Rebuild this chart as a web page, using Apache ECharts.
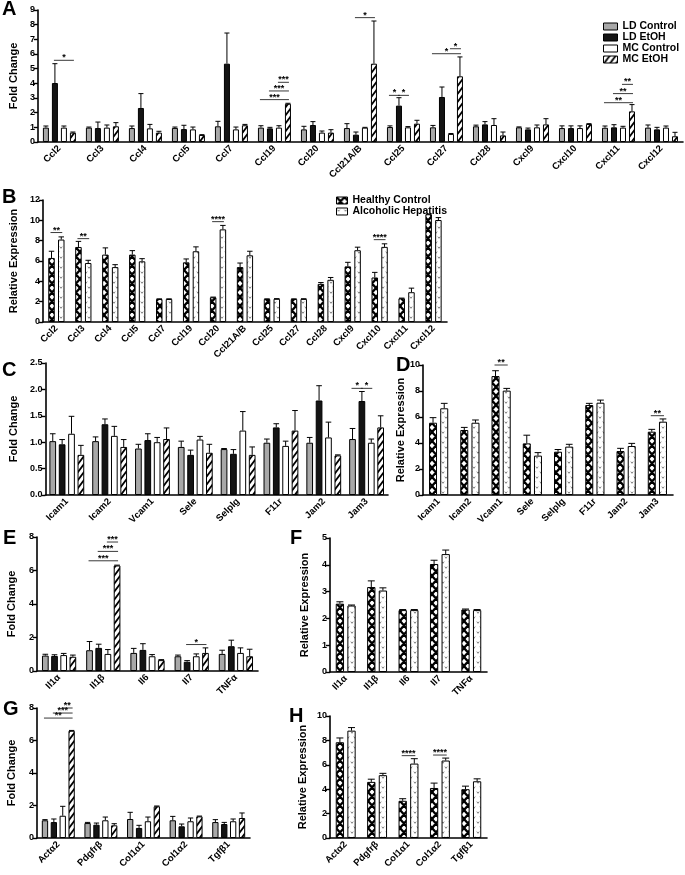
<!DOCTYPE html>
<html><head><meta charset="utf-8">
<script src="https://cdn.jsdelivr.net/npm/echarts@6/dist/echarts.min.js"></script>
<style>html,body{margin:0;padding:0;background:#fff}#c{width:685px;height:875px}</style>
</head><body><div id="c"></div><script>
// ---------------- DATA ----------------
const catsA = ['Ccl2','Ccl3','Ccl4','Ccl5','Ccl7','Ccl19','Ccl20','Ccl21A/B','Ccl25','Ccl27','Ccl28','Cxcl9','Cxcl10','Cxcl11','Cxcl12'];
const aLDC  = [0.98,0.98,0.95,0.96,1.07,0.98,0.86,0.95,1.02,1.0,1.07,1.0,0.95,0.97,0.98];
const aLDCe = [1.09,1.02,1.09,1.02,1.41,1.11,1.07,1.25,1.1,1.13,1.15,1.03,1.1,1.09,1.16];
const aLDE  = [4.02,0.95,2.32,0.88,5.34,0.93,1.16,0.5,2.48,3.07,1.2,0.86,0.95,1.0,0.86];
const aLDEe = [5.34,1.36,3.3,1.14,7.43,1.0,1.39,0.68,3.02,3.75,1.39,0.95,1.1,1.18,1.0];
const aMCC  = [0.98,0.98,0.93,0.86,0.86,0.98,0.64,0.98,1.0,0.55,1.16,1.0,0.95,0.98,0.98];
const aMCCe = [1.09,1.16,1.2,1.02,1.02,1.11,0.75,1.0,1.05,0.58,1.59,1.16,1.1,1.07,1.09];
const aMCE  = [0.64,1.07,0.64,0.48,1.14,2.61,0.64,5.34,1.25,4.48,0.45,1.2,1.23,2.09,0.39];
const aMCEe = [0.68,1.32,0.73,0.5,1.2,2.64,0.84,8.25,1.48,5.8,0.68,1.59,1.25,2.55,0.66];
// significance: [category, fromBar, toBar, y, label]
const sigA = [[0,1,3,5.57,'*'],[5,0,3,2.89,'***'],[5,1,3,3.48,'***'],[5,2,3,4.07,'***'],
  [7,1,3,8.48,'*'],[8,0,1,3.18,'*'],[8,1,2,3.18,'*'],[9,0,3,6.02,'*'],[9,2,3,6.36,'*'],
  [13,0,3,2.68,'**'],[13,1,3,3.3,'**'],[13,2,3,3.93,'**']];

const catsB = catsA;
const bHC  = [6.3,7.38,6.63,6.63,2.26,5.87,2.43,5.4,2.26,2.26,3.75,5.47,4.38,2.33,10.6];
const bHCe = [6.96,7.93,7.29,7.02,2.28,6.2,2.45,5.8,2.28,2.28,3.88,5.87,4.88,2.35,10.62];
const bAH  = [8.11,5.8,5.4,5.97,2.26,6.96,9.11,6.56,2.28,2.27,4.15,7.06,7.39,2.93,10.03];
const bAHe = [8.37,6.07,5.64,6.23,2.28,7.39,9.5,6.96,2.3,2.29,4.38,7.36,7.69,3.33,10.27];
const sigB = [[0,0,1,8.8,'**'],[1,0,1,8.2,'**'],[6,0,1,9.87,'****'],[12,0,1,8.1,'****']];

const catsC = ['Icam1','Icam2','Vcam1','Sele','Selplg','F11r','Jam2','Jam3'];
const cLDC  = [1.02,1.02,0.88,0.91,0.87,0.99,0.99,1.06];
const cLDCe = [1.16,1.1,0.96,1.02,0.88,1.06,1.09,1.26];
const cLDE  = [0.96,1.34,1.04,0.76,0.78,1.28,1.79,1.78];
const cLDEe = [1.05,1.44,1.16,0.85,0.86,1.35,2.07,1.96];
const cMCC  = [1.16,1.12,1.0,1.05,1.22,0.93,1.09,0.99];
const cMCCe = [1.49,1.3,1.09,1.11,1.58,1.02,1.38,1.06];
const cMCE  = [0.76,0.91,1.06,0.8,0.76,1.22,0.75,1.28];
const cMCEe = [0.94,1.05,1.27,0.96,0.91,1.6,0.76,1.5];
const sigC = [[7,0,1,2.02,'*'],[7,1,2,2.02,'*']];

const catsD = catsC;
const dHC  = [5.56,5.0,9.15,3.97,3.33,6.92,3.38,4.87];
const dHCe = [5.95,5.2,9.56,4.6,3.5,7.05,3.59,5.05];
const dAH  = [6.67,5.56,8.03,3.03,3.72,7.1,3.77,5.64];
const dAHe = [7.05,5.77,8.2,3.26,3.9,7.3,3.97,5.85];
const sigD = [[2,0,1,10.0,'**'],[7,0,1,6.1,'**']];

const catsE = ['Il1α','Il1β','Il6','Il7','TNFα'];
const eLDC  = [0.92,1.24,1.08,0.88,1.02];
const eLDCe = [1.0,1.76,1.35,0.95,1.24];
const eLDE  = [0.9,1.38,1.26,0.55,1.48];
const eLDEe = [0.97,1.6,1.63,0.62,1.84];
const eMCC  = [0.95,1.02,0.88,0.88,1.08];
const eMCCe = [1.05,1.28,0.98,1.02,1.38];
const eMCE  = [0.85,6.3,0.65,1.08,0.88];
const eMCEe = [0.95,6.32,0.68,1.38,1.3];
const sigE = [[1,0,3,6.58,'***'],[1,1,3,7.14,'***'],[1,2,3,7.7,'***'],[3,1,3,1.58,'*']];

const catsF = catsE;
const fHC  = [2.55,3.17,2.31,4.03,2.33];
const fHCe = [2.62,3.4,2.33,4.17,2.35];
const fAH  = [2.48,3.04,2.31,4.4,2.31];
const fAHe = [2.5,3.14,2.33,4.55,2.33];
const sigF = [];

const catsG = ['Actα2','Pdgfrβ','Col1α1','Col1α2','Tgfβ1'];
const gLDC  = [1.09,0.92,1.17,1.09,0.98];
const gLDCe = [1.13,0.96,1.58,1.33,1.13];
const gLDE  = [0.98,0.82,0.62,0.72,0.86];
const gLDEe = [1.17,0.92,0.78,0.86,0.96];
const gMCC  = [1.37,1.09,1.03,1.03,1.03];
const gMCCe = [1.95,1.29,1.29,1.23,1.17];
const gMCE  = [6.6,0.78,1.95,1.33,1.23];
const gMCEe = [6.62,0.88,1.97,1.35,1.54];
const sigG = [[0,0,3,7.38,'**'],[0,1,3,7.69,'***'],[0,2,3,8.0,'**']];

const catsH = catsG;
const hHC  = [7.85,4.6,3.05,4.1,4.0];
const hHCe = [8.2,4.82,3.22,4.5,4.25];
const hAH  = [8.8,5.15,6.1,6.35,4.65];
const hAHe = [9.05,5.3,6.5,6.55,4.85];
const sigH = [[2,0,1,6.75,'****'],[3,0,1,6.8,'****']];

// ---------------- STYLE ----------------
const FONT = '"Liberation Sans", Arial, Helvetica, sans-serif';
function tile(w,h,draw){const c=document.createElement('canvas');c.width=w;c.height=h;const x=c.getContext('2d');x.fillStyle='#fff';x.fillRect(0,0,w,h);draw(x,w,h);return c;}
const hatchCanvas = tile(6,8,(x,w,h)=>{x.strokeStyle='#000';x.lineWidth=1.8;x.beginPath();
  for(let k=-1;k<=1;k++){x.moveTo(k*w-w,2*h);x.lineTo(k*w+2*w,-h);}x.stroke();});
const crossCanvas = tile(8,9,(x,w,h)=>{x.strokeStyle='#000';x.lineWidth=2.3;x.beginPath();
  for(let k=-1;k<=1;k++){x.moveTo(k*w-w,2*h);x.lineTo(k*w+2*w,-h);x.moveTo(k*w-w,-h);x.lineTo(k*w+2*w,2*h);}x.stroke();});
const dotCanvas = tile(7,10,(x,w,h)=>{x.strokeStyle='#666';x.lineWidth=0.8;
  [[2,2.5],[5,7.5]].forEach(([cx,cy])=>{x.beginPath();x.moveTo(cx-1.2,cy-0.9);x.lineTo(cx,cy+0.8);x.lineTo(cx+1.2,cy-0.9);x.stroke();});});
const pat = c => ({image:c, repeat:'repeat'});
const STY = {
  'LD Control':{color:'#a8a8a8'},
  'LD EtOH':{color:'#141414'},
  'MC Control':{color:'#ffffff'},
  'MC EtOH':{color:pat(hatchCanvas)},
  'Healthy Control':{color:pat(crossCanvas)},
  'Alcoholic Hepatitis':{color:pat(dotCanvas)}
};
const four = ['LD Control','LD EtOH','MC Control','MC EtOH'];
const two = ['Healthy Control','Alcoholic Hepatitis'];

const panels = [
 {grid:{left:33,top:10,width:650,height:132}, cats:catsA, yMax:9, yInt:1, yName:'Fold Change', nameGap:17, bw:6, gap:0.5,
  names:four, vals:[aLDC,aLDE,aMCC,aMCE], errs:[aLDCe,aLDEe,aMCCe,aMCEe], sig:sigA},
 {grid:{left:33,top:200,width:414,height:122}, cats:catsB, yMax:12, yInt:2, yName:'Relative Expression', nameGap:19, bw:6.5, gap:0.5,
  names:two, vals:[bHC,bAH], errs:[bHCe,bAHe], sig:sigB},
 {grid:{left:33,top:363,width:355,height:132}, cats:catsC, yMax:2.5, yInt:0.5, yName:'Fold Change', nameGap:23, bw:6.7, gap:0.4, fmt:v=>v.toFixed(1),
  names:four, vals:[cLDC,cLDE,cMCC,cMCE], errs:[cLDCe,cLDEe,cMCCe,cMCEe], sig:sigC},
 {grid:{left:423,top:365,width:250,height:130}, cats:catsD, yMax:10, yInt:2, yName:'Relative Expression', nameGap:17, bw:8, gap:0.4,
  names:two, vals:[dHC,dAH], errs:[dHCe,dAHe], sig:sigD},
 {grid:{left:37,top:537,width:221,height:134}, cats:catsE, yMax:8, yInt:2, yName:'Fold Change', nameGap:20, bw:6.7, gap:0.37,
  names:four, vals:[eLDC,eLDE,eMCC,eMCE], errs:[eLDCe,eLDEe,eMCCe,eMCEe], sig:sigE},
 {grid:{left:330,top:538,width:157,height:134}, cats:catsF, yMax:5, yInt:1, yName:'Relative Expression', nameGap:20, bw:8.3, gap:0.4,
  names:two, vals:[fHC,fAH], errs:[fHCe,fAHe], sig:sigF},
 {grid:{left:37,top:708,width:213,height:130}, cats:catsG, yMax:8, yInt:2, yName:'Fold Change', nameGap:20, bw:6.3, gap:0.41,
  names:four, vals:[gLDC,gLDE,gMCC,gMCE], errs:[gLDCe,gLDEe,gMCCe,gMCEe], sig:sigG},
 {grid:{left:330,top:716,width:157,height:122}, cats:catsH, yMax:10, yInt:2, yName:'Relative Expression', nameGap:22, bw:8.3, gap:0.4,
  names:two, vals:[hHC,hAH], errs:[hHCe,hAHe], sig:sigH}
];

function barOffset(n,i,bw,g){const total=n*bw+(n-1)*g*bw;return -total/2+bw/2+i*bw*(1+g);}

const grids=[],xAxes=[],yAxes=[],series=[];
panels.forEach((p,pi)=>{
  grids.push(Object.assign({containLabel:false},p.grid));
  xAxes.push({type:'category',gridIndex:pi,data:p.cats,
    axisLine:{lineStyle:{color:'#000',width:1.6}},
    axisTick:{alignWithLabel:true,length:4,lineStyle:{color:'#000',width:1.4}},
    axisLabel:{rotate:45,margin:5,interval:0,color:'#000',fontFamily:FONT,fontWeight:'bold',fontSize:9.5}});
  yAxes.push({type:'value',gridIndex:pi,min:0,max:p.yMax,interval:p.yInt,name:p.yName,nameLocation:'middle',nameGap:p.nameGap,
    nameTextStyle:{color:'#000',fontFamily:FONT,fontWeight:'bold',fontSize:11},
    axisLine:{show:true,lineStyle:{color:'#000',width:1.6}},
    axisTick:{show:true,length:4,lineStyle:{color:'#000',width:1.4}},
    splitLine:{show:false},
    axisLabel:{margin:3,color:'#000',fontFamily:FONT,fontWeight:'bold',fontSize:9,formatter:p.fmt||(v=>String(v))}});
  const n=p.names.length;
  p.names.forEach((nm,si)=>{
    series.push({type:'bar',name:nm,xAxisIndex:pi,yAxisIndex:pi,data:p.vals[si],barWidth:p.bw,barGap:(p.gap*100)+'%',
      itemStyle:{color:STY[nm].color,borderColor:'#000',borderWidth:1},silent:true});
    const off=barOffset(n,si,p.bw,p.gap);
    series.push({type:'custom',xAxisIndex:pi,yAxisIndex:pi,clip:false,z:5,silent:true,
      data:p.vals[si].map((v,k)=>[k,v,p.errs[si][k]]),encode:{x:0,y:[1,2]},
      renderItem:(params,api)=>{
        const k=api.value(0),v=api.value(1),e=api.value(2);
        if(!(e>v))return null;
        const a=api.coord([k,v]),b=api.coord([k,e]);const x=a[0]+off;const cw=p.bw*0.42;
        return {type:'group',children:[
          {type:'line',shape:{x1:x,y1:a[1],x2:x,y2:b[1]},style:{stroke:'#000',lineWidth:1}},
          {type:'line',shape:{x1:x-cw,y1:b[1],x2:x+cw,y2:b[1]},style:{stroke:'#000',lineWidth:1}}]};
      }});
  });
  if(p.sig.length){
    series.push({type:'custom',xAxisIndex:pi,yAxisIndex:pi,clip:false,z:6,silent:true,
      data:p.sig.map(s=>[s[0],s[1],s[2],s[3]]),encode:{x:0,y:3},
      renderItem:(params,api)=>{
        const s=p.sig[params.dataIndex];
        const c=api.coord([s[0],s[3]]);
        const x1=c[0]+barOffset(n,s[1],p.bw,p.gap)-1, x2=c[0]+barOffset(n,s[2],p.bw,p.gap)+1;
        return {type:'group',children:[
          {type:'line',shape:{x1:x1,y1:c[1],x2:x2,y2:c[1]},style:{stroke:'#222',lineWidth:0.9}},
          {type:'text',style:{x:(x1+x2)/2,y:c[1]+2,text:s[4],align:'center',verticalAlign:'bottom',
            font:'bold 9px '+FONT,fill:'#000'}}]};
      }});
  }
});

const letters=[['A',2,-1],['B',2,187],['C',2,360],['D',396,355],['E',3,528],['F',290,528],['G',3,699],['H',289,706]];
const legendText={fontFamily:FONT,fontWeight:'bold',fontSize:10.5,color:'#000',lineHeight:10};
const option={
  animation:false,
  grid:grids,xAxis:xAxes,yAxis:yAxes,series:series,
  legend:[
    {data:four,orient:'vertical',left:598,top:16,itemWidth:14,itemHeight:7,itemGap:0,icon:'rect',selectedMode:false,textStyle:legendText,
     itemStyle:{borderColor:'#000',borderWidth:1}},
    {data:two,orient:'vertical',left:331,top:190,itemWidth:11,itemHeight:7,itemGap:0,icon:'rect',selectedMode:false,textStyle:legendText,
     itemStyle:{borderColor:'#000',borderWidth:1}}
  ],
  graphic:letters.map(([t,x,y])=>({type:'text',left:x,top:y,style:{text:t,font:'bold 20px '+FONT,fill:'#000'}}))
};
const chart=echarts.init(document.getElementById('c'),null,{renderer:'canvas'});
chart.setOption(option);
</script></body></html>
